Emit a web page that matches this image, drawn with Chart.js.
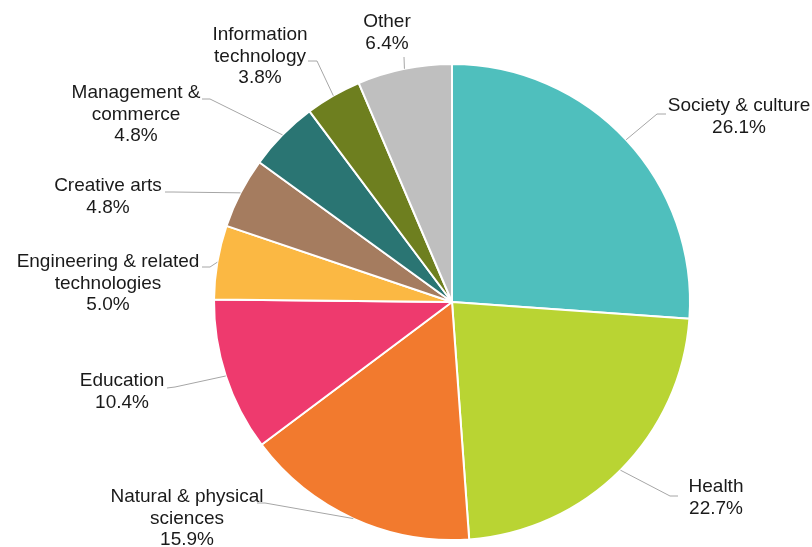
<!DOCTYPE html>
<html>
<head>
<meta charset="utf-8">
<script src="https://cdn.jsdelivr.net/npm/chart.js@4"></script>
<style>
  html, body { margin: 0; padding: 0; background: #fff; }
  #wrap { width: 812px; height: 547px; }
</style>
</head>
<body>
<div id="wrap"><canvas id="myChart" width="812" height="547"></canvas></div>
<script>
const categories = [
  ['Society & culture'],
  ['Health'],
  ['Natural & physical', 'sciences'],
  ['Education'],
  ['Engineering & related', 'technologies'],
  ['Creative arts'],
  ['Management &', 'commerce'],
  ['Information', 'technology'],
  ['Other']
];
const shares = [26.1, 22.7, 15.9, 10.4, 5.0, 4.8, 4.8, 3.8, 6.4];
const colours = ['#4fbfbd', '#b9d433', '#f27a2e', '#ee3a6e', '#fbb843', '#a57c5f', '#2a7573', '#6e7f1f', '#bfbfbf'];

// label placement: text centre x, first line y, leader elbow and end
const labelLayout = [
  { x: 739, y: 106, elbow: [657, 114], end: [666, 114] },
  { x: 716, y: 487, elbow: [670, 496], end: [678, 496] },
  { x: 187, y: 497, elbow: [265, 503], end: [257, 503] },
  { x: 122, y: 381, elbow: [175, 387], end: [167, 388] },
  { x: 108, y: 262, elbow: [210, 267], end: [202, 267] },
  { x: 108, y: 186, elbow: [173, 192], end: [165, 192] },
  { x: 136, y: 93,  elbow: [210, 99],  end: [202, 99] },
  { x: 260, y: 35,  elbow: [317, 61],  end: [308, 61] },
  { x: 387, y: 22,  elbow: [404, 57],  end: [404, 57] }
];
const lineHeight = 21.5;

const outsideLabels = {
  id: 'outsideLabels',
  afterDatasetsDraw(chart) {
    const ctx = chart.ctx;
    const arcs = chart.getDatasetMeta(0).data;
    ctx.save();
    arcs.forEach((arc, i) => {
      const p = arc.getProps(['x', 'y', 'startAngle', 'endAngle', 'outerRadius'], true);
      const mid = (p.startAngle + p.endAngle) / 2;
      const sx = p.x + Math.cos(mid) * p.outerRadius;
      const sy = p.y + Math.sin(mid) * p.outerRadius;
      const lay = labelLayout[i];
      ctx.strokeStyle = '#a6a6a6';
      ctx.lineWidth = 1;
      ctx.beginPath();
      ctx.moveTo(sx, sy);
      ctx.lineTo(lay.elbow[0], lay.elbow[1]);
      ctx.lineTo(lay.end[0], lay.end[1]);
      ctx.stroke();

      const lines = categories[i].concat([shares[i].toFixed(1) + '%']);
      ctx.fillStyle = '#1a1a1a';
      ctx.font = '19px "Liberation Sans", Arial, sans-serif';
      ctx.textAlign = 'center';
      ctx.textBaseline = 'middle';
      lines.forEach((t, k) => {
        ctx.fillText(t, lay.x, lay.y + k * lineHeight);
      });
    });
    ctx.restore();
  }
};

const data = {
  labels: categories.map(c => c.join(' ')),
  datasets: [{
    data: shares,
    backgroundColor: colours,
    borderColor: '#ffffff',
    borderWidth: 2
  }]
};

const config = {
  type: 'pie',
  data: data,
  options: {
    responsive: false,
    animation: false,
    layout: {
      padding: { left: 213, right: 121, top: 63, bottom: 6 }
    },
    plugins: {
      legend: { display: false },
      tooltip: { enabled: false }
    }
  },
  plugins: [outsideLabels]
};

const myChart = new Chart(
  document.getElementById('myChart').getContext('2d'),
  config
);
</script>
</body>
</html>
